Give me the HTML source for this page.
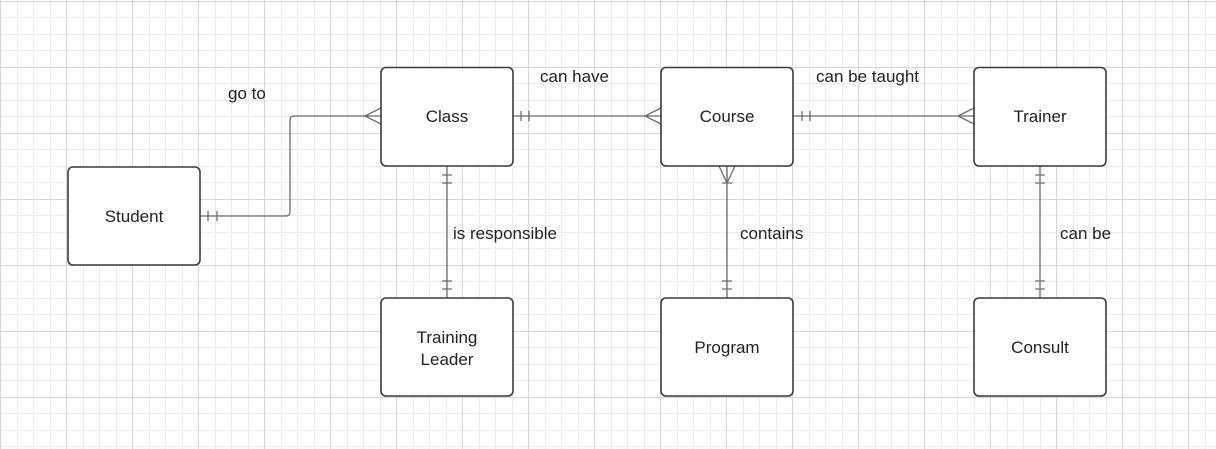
<!DOCTYPE html>
<html><head><style>
html,body{margin:0;padding:0;}
body{width:1216px;height:449px;overflow:hidden;background:#fff;position:relative;font-family:"Liberation Sans",sans-serif;}
svg{position:absolute;left:0;top:0;}
</style></head><body>
<svg width="1216" height="449" viewBox="0 0 1216 449">
<path stroke="#ebebeb" stroke-width="1" fill="none" d="
M17.5 0V449M33.5 0V449M50.5 0V449M83.5 0V449M99.5 0V449M116.5 0V449M149.5 0V449M165.5 0V449M182.5 0V449M215.5 0V449M231.5 0V449M248.5 0V449M281.5 0V449M297.5 0V449M314.5 0V449M347.5 0V449M363.5 0V449M380.5 0V449M413.5 0V449M429.5 0V449M446.5 0V449M479.5 0V449M495.5 0V449M512.5 0V449M545.5 0V449M561.5 0V449M578.5 0V449M611.5 0V449M627.5 0V449M644.5 0V449M677.5 0V449M693.5 0V449M710.5 0V449M743.5 0V449M759.5 0V449M776.5 0V449M809.5 0V449M825.5 0V449M842.5 0V449M875.5 0V449M891.5 0V449M908.5 0V449M941.5 0V449M957.5 0V449M974.5 0V449M1007.5 0V449M1023.5 0V449M1040.5 0V449M1073.5 0V449M1089.5 0V449M1106.5 0V449M1139.5 0V449M1155.5 0V449M1172.5 0V449M1205.5 0V449
M0 17.5H1216M0 34.5H1216M0 50.5H1216M0 83.5H1216M0 100.5H1216M0 116.5H1216M0 149.5H1216M0 166.5H1216M0 182.5H1216M0 215.5H1216M0 232.5H1216M0 248.5H1216M0 281.5H1216M0 298.5H1216M0 314.5H1216M0 347.5H1216M0 364.5H1216M0 380.5H1216M0 413.5H1216M0 430.5H1216M0 446.5H1216"/>
<path stroke="#d6d6d6" stroke-width="1" fill="none" d="
M0.5 0V449M66.5 0V449M132.5 0V449M198.5 0V449M264.5 0V449M330.5 0V449M396.5 0V449M462.5 0V449M528.5 0V449M594.5 0V449M660.5 0V449M726.5 0V449M792.5 0V449M858.5 0V449M924.5 0V449M990.5 0V449M1056.5 0V449M1122.5 0V449M1188.5 0V449
M0 1.5H1216M0 67.5H1216M0 133.5H1216M0 199.5H1216M0 265.5H1216M0 331.5H1216M0 397.5H1216"/>
<g stroke="#6b6e76" stroke-width="1.3" fill="none">
<path d="M200 216H286Q290 216 290 212V120Q290 116 294 116H381"/>
<path d="M208 211V221M217 211V221"/>
<path d="M365 116L381 108M365 116L381 124"/>
<path d="M513 116H661"/>
<path d="M521 111V121M529 111V121"/>
<path d="M645 116L661 108M645 116L661 124"/>
<path d="M793 116H974"/>
<path d="M802 111V121M810 111V121"/>
<path d="M958 116L974 108M958 116L974 124"/>
<path d="M447 166V298M442 175H452M442 183H452M442 281H452M442 289H452"/>
<path d="M727 166V298M719 166L727 183L735 166M722 183H732M722 281H732M722 289H732"/>
<path d="M1040 166V298M1035 175H1045M1035 183H1045M1035 281H1045M1035 289H1045"/>
</g>
<g fill="#fff" stroke="#383b42" stroke-width="1.6">
<rect x="381" y="67.5" width="132" height="98.5" rx="5"/>
<rect x="661" y="67.5" width="132" height="98.5" rx="5"/>
<rect x="974" y="67.5" width="132" height="98.5" rx="5"/>
<rect x="68" y="167" width="132" height="98" rx="5"/>
<rect x="381" y="298" width="132" height="98" rx="5"/>
<rect x="661" y="298" width="132" height="98" rx="5"/>
<rect x="974" y="298" width="132" height="98" rx="5"/>
</g>
<g font-family="Liberation Sans, sans-serif" font-size="17" fill="#222" text-anchor="middle">
<text x="447" y="122">Class</text>
<text x="727" y="122">Course</text>
<text x="1040" y="122">Trainer</text>
<text x="134" y="222">Student</text>
<text x="447" y="343">Training</text>
<text x="447" y="365">Leader</text>
<text x="727" y="353">Program</text>
<text x="1040" y="353">Consult</text>
</g>
<g font-family="Liberation Sans, sans-serif" font-size="17" fill="#222">
<text x="228" y="99">go to</text>
<text x="540" y="82">can have</text>
<text x="816" y="82">can be taught</text>
<text x="453" y="239">is responsible</text>
<text x="740" y="239">contains</text>
<text x="1060" y="239">can be</text>
</g>
</svg>
</body></html>
